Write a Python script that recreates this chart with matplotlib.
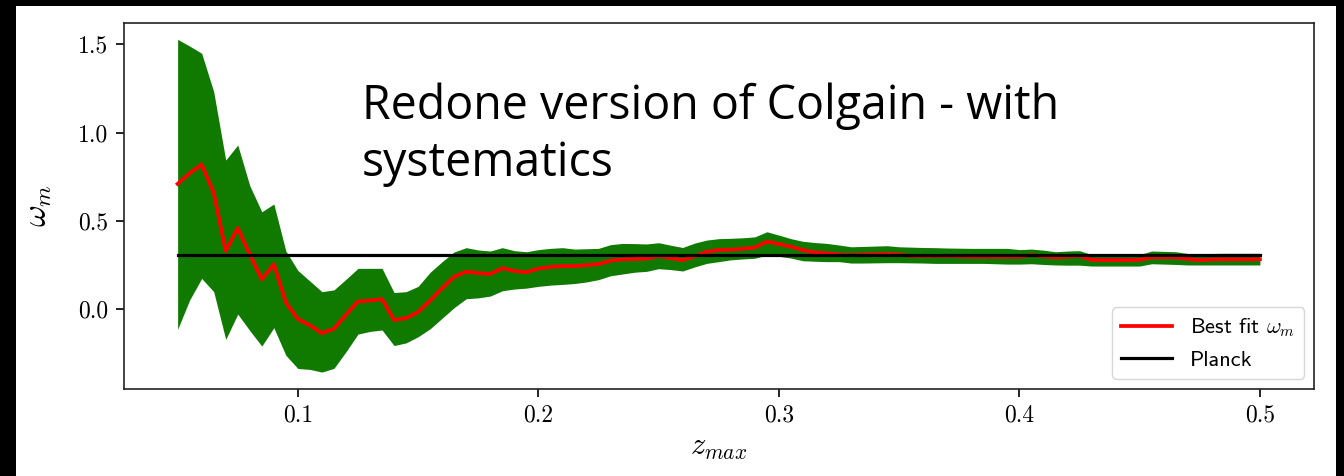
import numpy as np
import matplotlib
matplotlib.use("Agg")
from matplotlib import pyplot as plt
from matplotlib.patches import Rectangle

plt.rcParams['mathtext.fontset'] = 'cm'
plt.rcParams['axes.unicode_minus'] = False

# z_max grid (step 0.005)
z_max = np.round(np.arange(0.05, 0.5001, 0.005), 3)

best_fit = [
    0.71, 0.77, 0.82, 0.66, 0.33, 0.46, 0.31, 0.17, 0.255, 0.04,
    -0.055, -0.09, -0.135, -0.11, -0.03, 0.045, 0.05, 0.058, -0.06, -0.05,
    -0.015, 0.05, 0.12, 0.185, 0.213, 0.205, 0.2, 0.233, 0.217, 0.21,
    0.23, 0.24, 0.245, 0.245, 0.25, 0.256, 0.275, 0.283, 0.285, 0.287,
    0.302, 0.29, 0.279, 0.30, 0.326, 0.336, 0.338, 0.343, 0.35, 0.383,
    0.37, 0.355, 0.335, 0.322, 0.317, 0.31, 0.307, 0.31, 0.312, 0.313,
    0.31, 0.302, 0.302, 0.302, 0.302, 0.3, 0.298, 0.298, 0.298, 0.298,
    0.298, 0.307, 0.3, 0.294, 0.298, 0.302, 0.28, 0.279, 0.279, 0.279,
    0.28, 0.294, 0.294, 0.294, 0.285, 0.279, 0.282, 0.283, 0.283, 0.283,
    0.283,
]

upper = [
    1.528, 1.49, 1.449, 1.232, 0.845, 0.93, 0.70, 0.552, 0.596, 0.33,
    0.22, 0.16, 0.10, 0.11, 0.17, 0.232, 0.232, 0.232, 0.095, 0.10,
    0.13, 0.21, 0.27, 0.325, 0.349, 0.336, 0.33, 0.349, 0.332, 0.326,
    0.338, 0.345, 0.349, 0.341, 0.343, 0.345, 0.366, 0.373, 0.372, 0.37,
    0.377, 0.363, 0.35, 0.375, 0.392, 0.40, 0.402, 0.405, 0.41, 0.439,
    0.42, 0.40, 0.385, 0.378, 0.373, 0.364, 0.354, 0.356, 0.358, 0.36,
    0.354, 0.352, 0.35, 0.349, 0.347, 0.346, 0.345, 0.345, 0.345, 0.345,
    0.338, 0.341, 0.335, 0.326, 0.33, 0.332, 0.31, 0.307, 0.307, 0.307,
    0.31, 0.33, 0.328, 0.326, 0.316, 0.312, 0.316, 0.317, 0.317, 0.317,
    0.317,
]

lower = [
    -0.113, 0.053, 0.175, 0.10, -0.17, -0.027, -0.12, -0.208, -0.104, -0.26,
    -0.335, -0.34, -0.355, -0.334, -0.24, -0.14, -0.125, -0.117, -0.205, -0.19,
    -0.155, -0.11, -0.05, 0.01, 0.06, 0.065, 0.075, 0.105, 0.115, 0.12,
    0.13, 0.137, 0.141, 0.146, 0.155, 0.168, 0.19, 0.2, 0.21, 0.215,
    0.23, 0.225, 0.217, 0.24, 0.26, 0.27, 0.28, 0.285, 0.289, 0.307,
    0.3, 0.29, 0.275, 0.272, 0.27, 0.27, 0.262, 0.262, 0.263, 0.264,
    0.264, 0.263, 0.262, 0.26, 0.26, 0.26, 0.26, 0.26, 0.258, 0.256,
    0.256, 0.258, 0.254, 0.251, 0.25, 0.25, 0.245, 0.245, 0.245, 0.245,
    0.245, 0.258, 0.256, 0.254, 0.251, 0.251, 0.251, 0.251, 0.251, 0.251,
    0.251,
]

planck = 0.305

fig = plt.figure(figsize=(13.44, 4.76), dpi=100)
fig.patch.set_facecolor('black')
fig.add_artist(Rectangle((16 / 1344, 0), 1320 / 1344, 470 / 476,
                         transform=fig.transFigure, facecolor='white',
                         edgecolor='none', zorder=-10))

ax = fig.add_axes([0.0919, 0.1834, 0.8858, 0.7689])
ax.fill_between(z_max, lower, upper, color='#107a00', linewidth=0)
ax.plot(z_max, best_fit, color='red', lw=2.7, label=r'Best fit $\omega_m$')
ax.plot(z_max, np.full(len(z_max), planck), color='black', lw=2.3, label='Planck')

ax.set_yticks([0.0, 0.5, 1.0, 1.5])
ax.set_xticks([0.1, 0.2, 0.3, 0.4, 0.5])
ax.tick_params(length=6, width=1.2, pad=5, labelsize=17, labelfontfamily='cmr10')
for sp in ax.spines.values():
    sp.set_linewidth(1.2)
    sp.set_color('#222222')
ax.set_xlabel(r'$z_{max}$', fontsize=22, labelpad=5)
ax.set_ylabel(r'$\omega_m$', fontsize=24, labelpad=17)

leg = ax.legend(loc='lower right', prop={'family': 'cmss10', 'size': 16},
                handlelength=2.3, borderaxespad=0.45)

fig.text(362 / 1344, 1 - 83 / 476, 'Redone version of Colgain - with\nsystematics',
         family='Open Sans', fontsize=33.5, va='top', ha='left', linespacing=1.25)

plt.savefig('out.png', dpi=100, facecolor=fig.get_facecolor())
plt.close()
